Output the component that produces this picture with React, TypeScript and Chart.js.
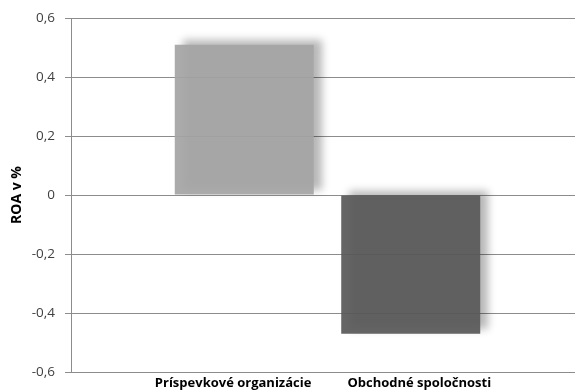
import React, { useEffect, useRef } from "react";
import { Chart, registerables } from "chart.js";

Chart.register(...registerables);

// ROA (%) by type of entity
const seriesNames = ["Príspevkové organizácie", "Obchodné spoločnosti"];
const roaValues = [0.51, -0.47];
const barColors = ["rgba(165,165,165,0.93)", "rgba(89,89,89,0.93)"];

// Value axis
const yTickValues = [-0.6, -0.4, -0.2, 0, 0.2, 0.4, 0.6];
const yTickLabels = ["-0,6", "-0,4", "-0,2", "0", "0,2", "0,4", "0,6"];
const yTitle = "ROA v %";

const FONT = "'Open Sans', 'Noto Sans', sans-serif";

// The plot runs a little past the visible frame on the right
const VIEW_W = 575;
const VIEW_H = 392;
const CANVAS_W = 584;

// Soft drop shadow behind the bars
const barShadow = {
  id: "barShadow",
  beforeDatasetsDraw(chart: any) {
    const ctx = chart.ctx;
    ctx.save();
    ctx.shadowColor = "rgba(0,0,0,0.3)";
    ctx.shadowBlur = 8;
    ctx.shadowOffsetX = 8;
    ctx.shadowOffsetY = -5;
  },
  afterDatasetsDraw(chart: any) {
    chart.ctx.restore();
  },
};

// Series names in one centred row under the plot
const seriesRow = {
  id: "seriesRow",
  afterDraw(chart: any) {
    const { ctx, chartArea } = chart;
    const names = chart.data.datasets.map((d: any) => d.label as string);
    ctx.save();
    ctx.font = `bold 13px ${FONT}`;
    ctx.fillStyle = "#000";
    ctx.textBaseline = "middle";
    ctx.textAlign = "left";
    const gap = 36;
    const widths = names.map((n: string) => ctx.measureText(n).width);
    const total = widths.reduce((a: number, b: number) => a + b, 0) + gap * (names.length - 1);
    let x = (chartArea.left + VIEW_W) / 2 - total / 2;
    const y = chartArea.bottom + 11.5;
    names.forEach((n: string, i: number) => {
      ctx.fillText(n, x, y);
      x += widths[i] + gap;
    });
    ctx.restore();
  },
};

export default function App() {
  const canvasRef = useRef<HTMLCanvasElement | null>(null);

  useEffect(() => {
    if (!canvasRef.current) return;
    const chart = new Chart(canvasRef.current, {
      type: "bar",
      data: {
        labels: ["ROA"],
        datasets: seriesNames.map((name, i) => ({
          label: name,
          data: [roaValues[i]],
          backgroundColor: barColors[i],
          borderWidth: 0,
        })),
      },
      options: {
        responsive: false,
        animation: false,
        layout: { padding: { top: 17, right: 0, bottom: 20, left: 0 } },
        datasets: {
          bar: { categoryPercentage: 0.649, barPercentage: 0.835 },
        },
        plugins: {
          legend: { display: false },
          tooltip: { enabled: false },
        },
        scales: {
          x: { display: false },
          y: {
            min: -0.6,
            max: 0.6,
            afterFit(scale: any) {
              scale.width = 71;
            },
            afterBuildTicks(scale: any) {
              scale.ticks = yTickValues.map((v) => ({ value: v }));
            },
            ticks: {
              padding: 10,
              color: "#404040",
              font: { family: FONT, size: 13.5 },
              callback: (_v: any, i: number) => yTickLabels[i],
            },
            grid: {
              color: "#8c8c8c",
              lineWidth: 1,
              tickLength: 6,
              tickColor: "#8c8c8c",
            },
            border: { color: "#8c8c8c", width: 1 },
            title: {
              display: true,
              text: yTitle,
              color: "#000",
              font: { family: FONT, size: 14, weight: "bold" },
              padding: { top: 9, bottom: 0 },
            },
          },
        },
      },
      plugins: [barShadow, seriesRow],
    });
    return () => chart.destroy();
  }, []);

  return (
    <div
      style={{
        position: "absolute",
        left: 0,
        top: 0,
        width: VIEW_W,
        height: VIEW_H,
        overflow: "hidden",
        background: "#fff",
      }}
    >
      <canvas ref={canvasRef} width={CANVAS_W} height={VIEW_H} style={{ display: "block" }} />
    </div>
  );
}
